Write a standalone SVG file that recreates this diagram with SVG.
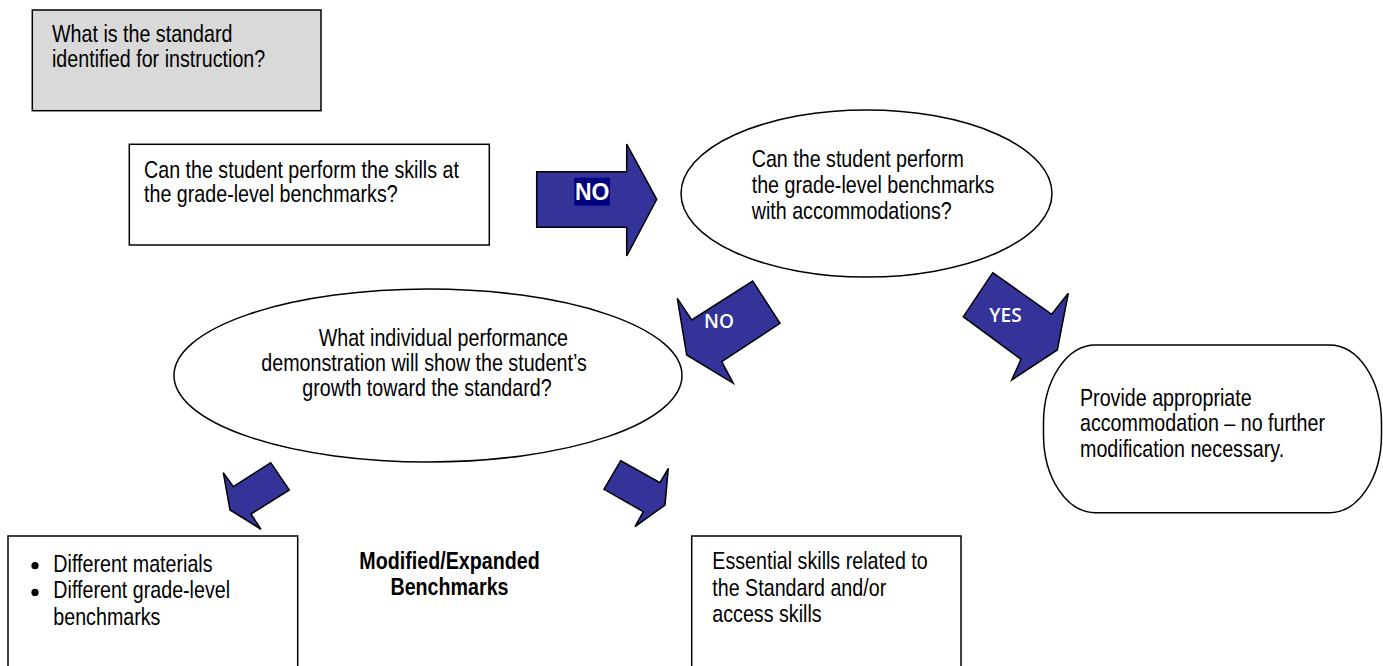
<svg xmlns="http://www.w3.org/2000/svg" width="1383" height="666" viewBox="0 0 1383 666">
<style>
.box{fill:#fff;stroke:#000;stroke-width:1.5}
.gray{fill:#d9d9d9;stroke:#000;stroke-width:1.5}
.t{font-family:"Liberation Sans",Arial,sans-serif;font-size:24px;fill:#000}
.tm{font-family:"Liberation Sans",Arial,sans-serif;font-size:24px;fill:#000;text-anchor:middle}
.tb{font-family:"Liberation Sans",Arial,sans-serif;font-size:24px;font-weight:bold;fill:#000;text-anchor:middle}
.arrow{fill:#333399;stroke:#000;stroke-width:1.5;stroke-linejoin:miter}
.lab{font-family:"Open Sans","Liberation Sans",sans-serif;font-size:19px;font-weight:600;fill:#fff;text-anchor:middle}
.labno{font-family:"Liberation Sans",Arial,sans-serif;font-size:23px;font-weight:bold;fill:#fff;text-anchor:middle}
</style>
<rect width="1383" height="666" fill="#fff"/>
<g id="standard">
<rect class="gray" x="32.3" y="10" width="288.7" height="100.7"/>
<text class="t" transform="matrix(0.82,0,0,1,52,42.3)">What is the standard</text>
<text class="t" transform="matrix(0.82,0,0,1,52,66.7)">identified for instruction?</text>
</g>
<g id="perform-skills">
<rect class="box" x="129.3" y="144.3" width="360" height="100.7"/>
<text class="t" transform="matrix(0.82,0,0,1,144,177.7)">Can the student perform the skills at</text>
<text class="t" transform="matrix(0.82,0,0,1,144,202.3)">the grade-level benchmarks?</text>
</g>
<g id="accommodations">
<ellipse class="box" cx="866.5" cy="193.5" rx="185.5" ry="83.5"/>
<text class="t" transform="matrix(0.82,0,0,1,751.7,167.3)">Can the student perform</text>
<text class="t" transform="matrix(0.82,0,0,1,751.7,193.3)">the grade-level benchmarks</text>
<text class="t" transform="matrix(0.82,0,0,1,751.7,219.3)">with accommodations?</text>
</g>
<g id="demonstration">
<ellipse class="box" cx="428" cy="375.5" rx="254" ry="86.5"/>
<text class="tm" transform="matrix(0.82,0,0,1,443.3,345.5)">What individual performance</text>
<text class="tm" transform="matrix(0.82,0,0,1,424,370.8)">demonstration will show the student’s</text>
<text class="tm" transform="matrix(0.82,0,0,1,427,396.3)">growth toward the standard?</text>
</g>
<g id="provide">
<rect class="box" x="1043.5" y="345" width="338" height="167.7" rx="52" ry="78"/>
<text class="t" transform="matrix(0.82,0,0,1,1080,405.7)">Provide appropriate</text>
<text class="t" transform="matrix(0.82,0,0,1,1080,431.2)">accommodation – no further</text>
<text class="t" transform="matrix(0.82,0,0,1,1080,456.7)">modification necessary.</text>
</g>
<g id="different">
<rect class="box" x="8" y="536" width="289.7" height="140"/>
<circle cx="35" cy="565.7" r="3.6" fill="#000"/>
<circle cx="35" cy="592.4" r="3.6" fill="#000"/>
<text class="t" transform="matrix(0.82,0,0,1,53.3,571.7)">Different materials</text>
<text class="t" transform="matrix(0.82,0,0,1,53.3,598.3)">Different grade-level</text>
<text class="t" transform="matrix(0.82,0,0,1,53.3,625.3)">benchmarks</text>
</g>
<g id="modified">
<text class="tb" transform="matrix(0.82,0,0,1,449.5,569)">Modified/Expanded</text>
<text class="tb" transform="matrix(0.82,0,0,1,449.5,595)">Benchmarks</text>
</g>
<g id="essential">
<rect class="box" x="691.7" y="536" width="269.3" height="140"/>
<text class="t" transform="matrix(0.82,0,0,1,712.3,569.3)">Essential skills related to</text>
<text class="t" transform="matrix(0.82,0,0,1,712.3,595.7)">the Standard and/or</text>
<text class="t" transform="matrix(0.82,0,0,1,712.3,621.7)">access skills</text>
</g>
<g id="connectors">
<g id="arrow-no-right">
<polygon class="arrow" points="536.7,171.7 626.7,171.7 626.7,144 656.7,199.3 626.7,256 626.7,227.3 536.7,227.3"/>
<rect x="574.3" y="177.7" width="35.7" height="28" fill="#000080"/>
<text class="labno" x="592.2" y="200">NO</text>
</g>
<g id="arrow-no-down">
<polygon class="arrow" points="677.3,298.3 691.7,320 752.7,281 780,323.3 721.7,361.7 733.3,383.3 686.7,355"/>
<text class="lab" x="719" y="327.7">NO</text>
</g>
<g id="arrow-yes">
<polygon class="arrow" points="992.7,272.7 1051.7,314.3 1068.3,293.3 1057.3,350 1011.7,380 1021,359.3 963.3,316.7"/>
<text class="lab" x="1005.5" y="321.7">YES</text>
</g>
<polygon class="arrow" points="223.3,472.7 233.3,486.7 270.7,462.7 289.3,490 251,514 261,529.3 230,510"/>
<polygon class="arrow" points="620.7,460.7 660,482.7 668.3,468.3 665,505 635,526.7 643.3,511.7 604,489.3"/>
</g>
</svg>
